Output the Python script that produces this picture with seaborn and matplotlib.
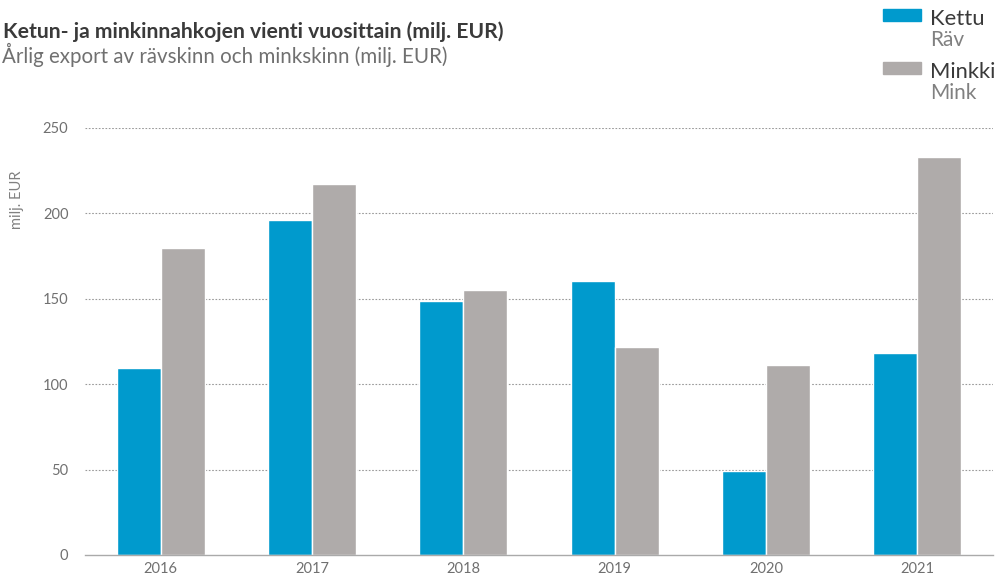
import pandas as pd
import matplotlib.pyplot as plt
import seaborn as sns
from matplotlib.patches import Rectangle

years = ["2016", "2017", "2018", "2019", "2020", "2021"]
kettu = [109.5, 196, 148.5, 160.5, 49, 118.5]
minkki = [180, 217.5, 155, 122, 111.5, 233]
series = ["Kettu", "Minkki"]
series_sv = ["Räv", "Mink"]
colors = ["#009acd", "#afabaa"]

df = pd.DataFrame({
    "year": years * 2,
    "value": kettu + minkki,
    "series": ["Kettu"] * len(years) + ["Minkki"] * len(years),
})

sns.set_theme(style="white")
plt.rcParams["font.family"] = ["Lato", "DejaVu Sans"]

fig = plt.figure(figsize=(9.97, 5.79), dpi=100)
ax = fig.add_axes([85 / 997, 24 / 579, 908 / 997, 427 / 579])

sns.barplot(data=df, x="year", y="value", hue="series", palette=colors,
            width=0.58, gap=0, saturation=1, legend=False, ax=ax)

ax.set_ylim(0, 250)
ax.set_xlim(-0.5, len(years) - 0.5)
ax.set_yticks([0, 50, 100, 150, 200, 250])
for y in [50, 100, 150, 200, 250]:
    ax.axhline(y, color="#9a9a9a", lw=0.8, ls=(0, (1.5, 1.5)), zorder=0)
ax.set_xlabel("")
ax.set_ylabel("")
for s in ["top", "right", "left"]:
    ax.spines[s].set_visible(False)
ax.spines["bottom"].set_color("#aaaaaa")
ax.spines["bottom"].set_linewidth(1)
ax.tick_params(axis="y", length=0, pad=12, labelsize=10.5, labelcolor="#707070")
ax.tick_params(axis="x", which="major", length=0, pad=5, labelsize=10.5, labelcolor="#707070")
ax.set_xticks([i - 0.5 for i in range(len(years) + 1)], minor=True)
ax.tick_params(axis="x", which="minor", length=6, color="#aaaaaa", width=1)

fig.text(17 / 997, 1 - 200 / 579, "milj. EUR", rotation=90, ha="center", va="center",
         fontsize=10.5, color="#808080")

fig.text(3 / 997, 1 - 38 / 579, "Ketun- ja minkinnahkojen vienti vuosittain (milj. EUR)",
         fontsize=15.2, fontweight="bold", color="#3a3a3a", va="baseline")
fig.text(2 / 997, 1 - 63 / 579, "Årlig export av rävskinn och minkskinn (milj. EUR)",
         fontsize=14.8, color="#707070", va="baseline")

# legend
for i, (name, sv, c) in enumerate(zip(series, series_sv, colors)):
    top = 9 + i * 53
    fig.patches.append(Rectangle((883 / 997, 1 - (top + 12) / 579), 38 / 997, 12 / 579,
                                 transform=fig.transFigure, color=c, figure=fig))
    fig.text(930 / 997, 1 - (top + 16) / 579, name, fontsize=15.8, color="#3a3a3a",
             va="baseline")
    fig.text(930 / 997, 1 - (top + 37) / 579, sv, fontsize=15, color="#808080",
             va="baseline")

fig.savefig("out.png", dpi=100)
